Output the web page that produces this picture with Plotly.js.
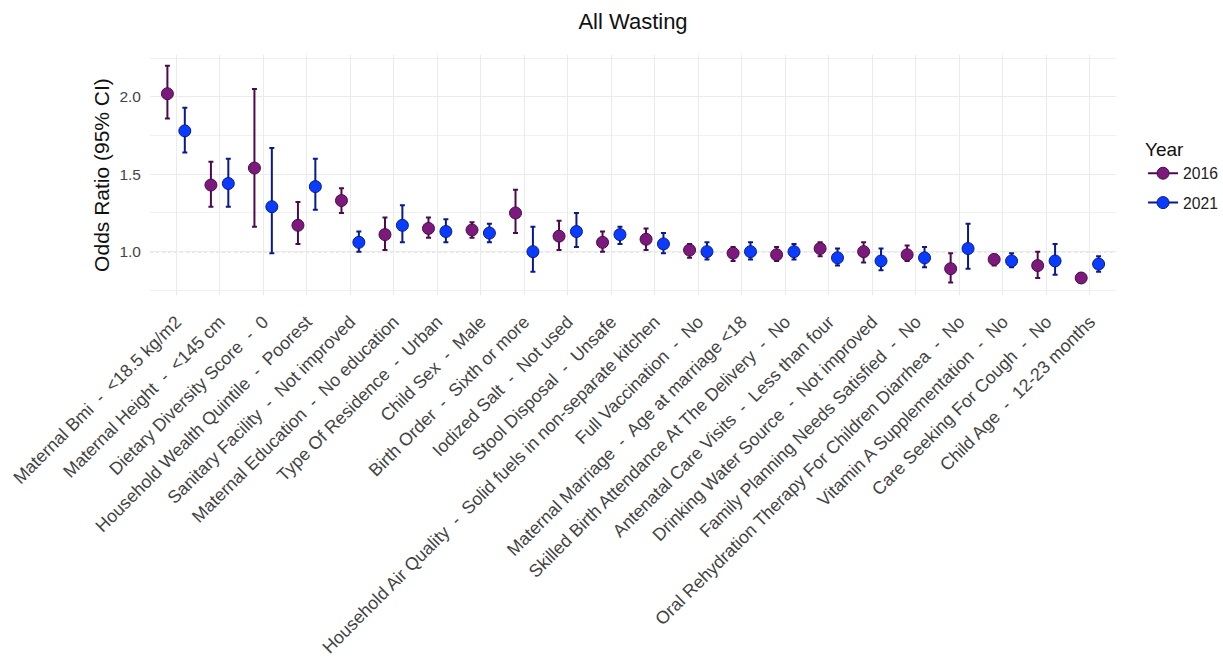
<!DOCTYPE html>
<html>
<head>
<meta charset="utf-8">
<script src="https://cdn.plot.ly/plotly-3.0.1.min.js"></script>
<style>html,body{margin:0;padding:0;background:#fff;}</style>
</head>
<body>
<div id="chart" style="width:1223px;height:658px;"></div>
<script>
var categories = [
  "Maternal Bmi  -  &lt;18.5 kg/m2",
  "Maternal Height  -  &lt;145 cm",
  "Dietary Diversity Score  -  0",
  "Household Wealth Quintile  -  Poorest",
  "Sanitary Facility  -  Not improved",
  "Maternal Education  -  No education",
  "Type Of Residence  -  Urban",
  "Child Sex  -  Male",
  "Birth Order  -  Sixth or more",
  "Iodized Salt  -  Not used",
  "Stool Disposal  -  Unsafe",
  "Household Air Quality  -  Solid fuels in non-separate kitchen",
  "Full Vaccination  -  No",
  "Maternal Marriage  -  Age at marriage &lt;18",
  "Skilled Birth Attendance At The Delivery  -  No",
  "Antenatal Care Visits  -  Less than four",
  "Drinking Water Source  -  Not improved",
  "Family Planning Needs Satisfied  -  No",
  "Oral Rehydration Therapy For Children Diarrhea  -  No",
  "Vitamin A Supplementation  -  No",
  "Care Seeking For Cough  -  No",
  "Child Age  -  12-23 months"
];
var or2016    = [2.02, 1.43, 1.54, 1.17, 1.33, 1.11, 1.15, 1.14, 1.25, 1.10, 1.06, 1.08, 1.01, 0.99, 0.98, 1.02, 1.00, 0.98, 0.89, 0.95, 0.91, 0.83];
var lower2016 = [1.86, 1.29, 1.16, 1.05, 1.25, 1.01, 1.09, 1.09, 1.12, 1.01, 1.00, 1.01, 0.96, 0.94, 0.94, 0.97, 0.93, 0.94, 0.80, 0.91, 0.83, 0.80];
var upper2016 = [2.20, 1.58, 2.05, 1.32, 1.41, 1.22, 1.22, 1.19, 1.40, 1.20, 1.13, 1.15, 1.05, 1.03, 1.03, 1.06, 1.06, 1.04, 0.99, 0.98, 1.00, 0.86];
var or2021    = [1.78, 1.44, 1.29, 1.42, 1.06, 1.17, 1.13, 1.12, 1.00, 1.13, 1.11, 1.05, 1.00, 1.00, 1.00, 0.96, 0.94, 0.96, 1.02, 0.94, 0.94, 0.92];
var lower2021 = [1.64, 1.29, 0.99, 1.27, 1.00, 1.06, 1.06, 1.06, 0.87, 1.03, 1.05, 0.99, 0.95, 0.95, 0.95, 0.91, 0.88, 0.90, 0.89, 0.90, 0.85, 0.87];
var upper2021 = [1.93, 1.60, 1.67, 1.60, 1.13, 1.30, 1.21, 1.18, 1.16, 1.25, 1.16, 1.12, 1.06, 1.06, 1.05, 1.02, 1.02, 1.03, 1.18, 0.99, 1.05, 0.97];
var yearLabels = ["2016", "2021"];

var purpleFill = "#7b1a7b", purpleDark = "#4b0a4e";
var blueFill = "#0a3cff", blueDark = "#0b1a8a";

function diff(a, b) { return a.map(function (v, i) { return Math.abs(+(v - b[i]).toFixed(3)); }); }

function seriesTrace(name, vals, lo, hi, fill, dark) {
  return {
    type: "scatter", mode: "markers", name: name, showlegend: false,
    x: categories, y: vals,
    marker: { size: 12, color: fill, line: { color: dark, width: 1 } },
    error_y: { type: "data", symmetric: false,
      array: diff(hi, vals), arrayminus: diff(vals, lo),
      color: dark, thickness: 2, width: 2.5 },
    hoverinfo: "x+y"
  };
}
function legendTrace(name, fill, dark) {
  return {
    type: "scatter", mode: "lines+markers", name: name, showlegend: true,
    legendgroup: name,
    x: [null], y: [null], xaxis: "x2", yaxis: "y2",
    marker: { size: 12, color: fill, line: { color: dark, width: 1 } },
    line: { color: dark, width: 2 }
  };
}

var data = [
  seriesTrace(yearLabels[0], or2016, lower2016, upper2016, purpleFill, purpleDark),
  seriesTrace(yearLabels[1], or2021, lower2021, upper2021, blueFill, blueDark),
  legendTrace(yearLabels[0], purpleFill, purpleDark),
  legendTrace(yearLabels[1], blueFill, blueDark)
];

var font = "Liberation Sans, Arial, Helvetica, sans-serif";
var layout = {
  width: 1223, height: 658,
  paper_bgcolor: "#fff", plot_bgcolor: "#fff",
  font: { family: font, color: "#222" },
  margin: { l: 150, r: 107, t: 55, b: 363, pad: 0, autoexpand: false },
  scattermode: "group", scattergap: 0.2,
  title: { text: "All Wasting", x: 0.5, xref: "paper", xanchor: "center", y: 0.968, yref: "container", yanchor: "middle", font: { size: 22, color: "#111", family: font } },
  xaxis: {
    type: "category", range: [-0.6, 21.6], tickangle: -45,
    showgrid: true, gridcolor: "#ebebeb", gridwidth: 1.2, automargin: false,
    ticks: "", showline: false, zeroline: false, ticklabelstandoff: 12,
    tickfont: { size: 17.8, color: "#444", family: font }
  },
  yaxis: {
    range: [0.72, 2.27], tickvals: [1, 1.5, 2], ticktext: ["1.0", "1.5", "2.0"],
    showgrid: true, gridcolor: "#ebebeb", gridwidth: 1.2, zeroline: false, ticks: "",
    ticklabelstandoff: 8, automargin: false,
    minor: { tickvals: [0.75, 1.25, 1.75, 2.25], showgrid: true, gridcolor: "#f0f0f0", gridwidth: 0.8 },
    tickfont: { size: 15.5, color: "#444", family: font },
    title: { text: "Odds Ratio (95% CI)", font: { size: 21, color: "#111", family: font }, standoff: 4 }
  },
  xaxis2: { visible: false, overlaying: "x", range: [0, 1] },
  yaxis2: { visible: false, overlaying: "y", range: [0, 1] },
  shapes: [{ type: "line", xref: "paper", x0: 0, x1: 1, yref: "y", y0: 1, y1: 1,
    line: { color: "#a0a0a0", width: 1.2, dash: "dot" }, layer: "below" }],
  legend: {
    x: 1.028, xanchor: "left", y: 0.68, yanchor: "top",
    title: { text: "Year", font: { size: 19, color: "#111", family: font } },
    font: { size: 15.7, color: "#222", family: font },
    bgcolor: "rgba(0,0,0,0)", tracegroupgap: 6, itemwidth: 30
  },
  hovermode: "closest"
};

Plotly.newPlot("chart", data, layout, { displayModeBar: false });
</script>
</body>
</html>
